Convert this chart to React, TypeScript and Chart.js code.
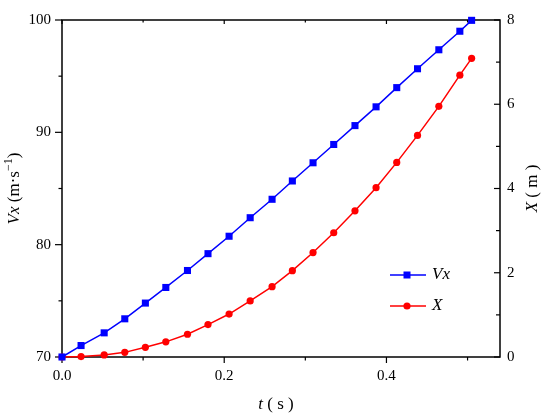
import React, { useEffect, useRef } from "react";
import { Chart, registerables } from "chart.js";

Chart.register(...registerables);

// time (s)
const tValues = [0, 0.0235, 0.052, 0.0774, 0.1028, 0.128, 0.1547, 0.18, 0.206, 0.232, 0.259, 0.284, 0.3095, 0.335, 0.3612, 0.3872, 0.4127, 0.4383, 0.4646, 0.4905, 0.505];
// Vx (m/s)
const vxValues = [70, 71.02, 72.15, 73.4, 74.8, 76.19, 77.7, 79.2, 80.75, 82.4, 84.04, 85.67, 87.29, 88.92, 90.6, 92.27, 93.98, 95.66, 97.35, 99.0, 99.97];
// X (m)
const xValues = [0, 0.01, 0.05, 0.11, 0.23, 0.36, 0.54, 0.77, 1.02, 1.33, 1.67, 2.05, 2.48, 2.95, 3.47, 4.02, 4.62, 5.26, 5.95, 6.69, 7.09];

const tTicks = [0, 0.2, 0.4];
const tMinor = [0.1, 0.3, 0.5];
const vxTicks = [70, 80, 90, 100];
const vxMinor = [75, 85, 95];
const xTicks = [0, 2, 4, 6, 8];
const xMinor = [1, 3, 5, 7];

const FONT = '"Liberation Serif", serif';
const BLUE = "#0000ff";
const RED = "#ff0000";

type Part = { text: string; italic?: boolean; sup?: boolean };

function drawRich(ctx: CanvasRenderingContext2D, parts: Part[], cx: number, cy: number, size: number, rotate: boolean) {
  ctx.save();
  ctx.translate(cx, cy);
  if (rotate) ctx.rotate(-Math.PI / 2);
  const fontFor = (p: Part) => `${p.italic ? "italic " : ""}${p.sup ? Math.round(size * 0.7) : size}px ${FONT}`;
  let total = 0;
  const widths = parts.map((p) => {
    ctx.font = fontFor(p);
    const w = ctx.measureText(p.text).width;
    total += w;
    return w;
  });
  let x = -total / 2;
  ctx.textBaseline = "middle";
  ctx.textAlign = "left";
  ctx.fillStyle = "#000";
  parts.forEach((p, i) => {
    ctx.font = fontFor(p);
    ctx.fillText(p.text, x, p.sup ? -size * 0.35 : 0);
    x += widths[i];
  });
  ctx.restore();
}

const framePlugin = {
  id: "frame",
  beforeDatasetsDraw(chart: any) {
    const { ctx, chartArea: a, scales } = chart;
    ctx.save();
    ctx.strokeStyle = "#000";
    ctx.lineWidth = 1.5;
    ctx.strokeRect(a.left, a.top, a.right - a.left, a.bottom - a.top);
    ctx.lineWidth = 1.2;
    const line = (x1: number, y1: number, x2: number, y2: number) => {
      ctx.beginPath();
      ctx.moveTo(x1, y1);
      ctx.lineTo(x2, y2);
      ctx.stroke();
    };
    tTicks.forEach((v) => {
      const p = scales.x.getPixelForValue(v);
      line(p, a.bottom, p, a.bottom + 6);
      line(p, a.top, p, a.top + 4);
    });
    tMinor.forEach((v) => {
      const p = scales.x.getPixelForValue(v);
      line(p, a.bottom, p, a.bottom + 3.5);
      line(p, a.top, p, a.top + 2.5);
    });
    vxTicks.forEach((v) => {
      const p = scales.y.getPixelForValue(v);
      line(a.left - 7, p, a.left, p);
    });
    vxMinor.forEach((v) => {
      const p = scales.y.getPixelForValue(v);
      line(a.left - 3.5, p, a.left, p);
    });
    xTicks.forEach((v) => {
      const p = scales.y2.getPixelForValue(v);
      line(a.right - 6, p, a.right, p);
    });
    xMinor.forEach((v) => {
      const p = scales.y2.getPixelForValue(v);
      line(a.right - 4, p, a.right, p);
    });
    ctx.restore();
  },
  afterDraw(chart: any) {
    const { ctx, chartArea: a } = chart;
    drawRich(
      ctx,
      [
        { text: "Vx", italic: true },
        { text: " (m·s" },
        { text: "−1", sup: true },
        { text: ")" },
      ],
      15,
      (a.top + a.bottom) / 2,
      17,
      true
    );
    drawRich(ctx, [{ text: "X", italic: true }, { text: " ( m )" }], 533, (a.top + a.bottom) / 2, 17, true);
    drawRich(ctx, [{ text: "t", italic: true }, { text: " ( s )" }], 276, 405, 17, false);

    const lx = a.right - 110;
    const items = [
      { label: "Vx", color: BLUE, style: "rect", y: a.top + 255 },
      { label: "X", color: RED, style: "circle", y: a.top + 286 },
    ];
    items.forEach((it) => {
      ctx.save();
      ctx.strokeStyle = it.color;
      ctx.fillStyle = it.color;
      ctx.lineWidth = 1.5;
      ctx.beginPath();
      ctx.moveTo(lx, it.y);
      ctx.lineTo(lx + 36, it.y);
      ctx.stroke();
      const mx = lx + 17;
      if (it.style === "rect") {
        ctx.fillRect(mx - 3.5, it.y - 3.5, 7, 7);
      } else {
        ctx.beginPath();
        ctx.arc(mx, it.y, 3.6, 0, Math.PI * 2);
        ctx.fill();
      }
      ctx.fillStyle = "#000";
      ctx.font = `italic 17px ${FONT}`;
      ctx.textBaseline = "middle";
      ctx.textAlign = "left";
      ctx.fillText(it.label, lx + 42, it.y);
      ctx.restore();
    });
  },
};

export default function App() {
  const ref = useRef<HTMLCanvasElement | null>(null);

  useEffect(() => {
    if (!ref.current) return;
    const tickFont = { family: FONT, size: 15 };
    const chart = new Chart(ref.current, {
      type: "line",
      data: {
        datasets: [
          {
            label: "Vx",
            data: tValues.map((t, i) => ({ x: t, y: vxValues[i] })),
            yAxisID: "y",
            borderColor: BLUE,
            backgroundColor: BLUE,
            borderWidth: 1.5,
            pointStyle: "rect",
            pointRadius: 5,
            pointBorderWidth: 0,
            tension: 0,
            clip: false as any,
          },
          {
            label: "X",
            data: tValues.map((t, i) => ({ x: t, y: xValues[i] })),
            yAxisID: "y2",
            borderColor: RED,
            backgroundColor: RED,
            borderWidth: 1.5,
            pointStyle: "circle",
            pointRadius: 3.6,
            pointBorderWidth: 0,
            tension: 0,
            clip: false as any,
          },
        ],
      },
      options: {
        animation: false,
        responsive: false,
        layout: { padding: { top: 13, left: 0, right: 0, bottom: 0 } },
        plugins: { legend: { display: false }, tooltip: { enabled: false } },
        scales: {
          x: {
            type: "linear",
            min: 0,
            max: 0.54,
            afterBuildTicks: (s: any) => {
              s.ticks = tTicks.map((v) => ({ value: v }));
            },
            afterFit: (s: any) => {
              s.height = 61;
            },
            ticks: {
              callback: (v: any) => Number(v).toFixed(1),
              font: tickFont,
              color: "#000",
              padding: 10,
              maxRotation: 0,
              autoSkip: false,
            },
            grid: { display: false, drawTicks: false },
            border: { display: false },
          },
          y: {
            type: "linear",
            position: "left",
            min: 70,
            max: 100,
            afterBuildTicks: (s: any) => {
              s.ticks = vxTicks.map((v) => ({ value: v }));
            },
            afterFit: (s: any) => {
              s.width = 62;
            },
            ticks: { font: tickFont, color: "#000", padding: 11, autoSkip: false },
            grid: { display: false, drawTicks: false },
            border: { display: false },
          },
          y2: {
            type: "linear",
            position: "right",
            min: 0,
            max: 8,
            afterBuildTicks: (s: any) => {
              s.ticks = xTicks.map((v) => ({ value: v }));
            },
            afterFit: (s: any) => {
              s.width = 50;
            },
            ticks: { font: tickFont, color: "#000", padding: 7, autoSkip: false },
            grid: { display: false, drawTicks: false },
            border: { display: false },
          },
        },
      },
      plugins: [framePlugin],
    } as any);
    return () => {
      chart.destroy();
    };
  }, []);

  return (
    <div style={{ position: "fixed", left: 0, top: 0, width: 550, height: 418, background: "#fff" }}>
      <canvas ref={ref} width={550} height={418} style={{ width: 550, height: 418 }} />
    </div>
  );
}
